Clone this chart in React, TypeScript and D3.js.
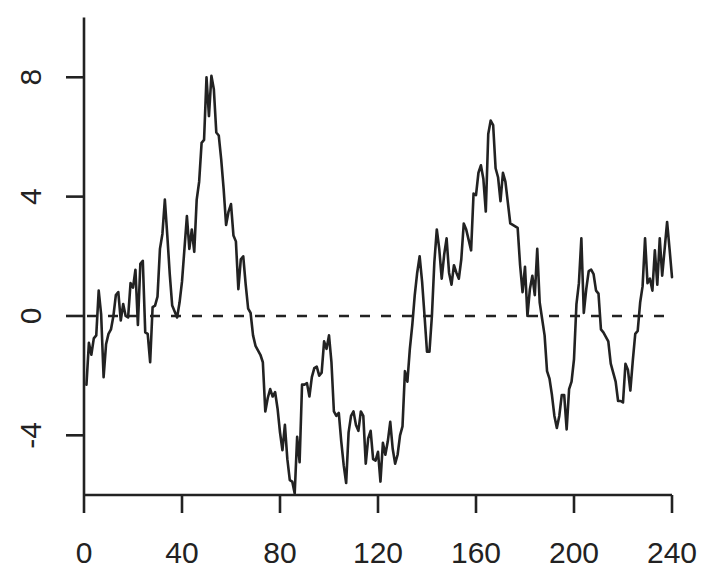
import React from "react";
import * as d3 from "d3";

const values: number[] = [
  -2.3, -0.9, -1.3, -0.75, -0.65, 0.85, 0.05, -2.05, -0.95, -0.6,
  -0.45, 0.0, 0.7, 0.8, -0.15, 0.4, 0.0, -0.05, 1.1, 0.95,
  1.55, -0.3, 1.75, 1.85, -0.55, -0.6, -1.55, 0.3, 0.35, 0.65,
  2.25, 2.75, 3.9, 2.7, 1.4, 0.35, 0.15, -0.05, 0.45, 1.15,
  2.25, 3.35, 2.25, 2.9, 2.15, 3.9, 4.5, 5.8, 5.9, 8.0,
  6.7, 8.05, 7.6, 6.15, 6.05, 5.25, 4.25, 3.05, 3.5, 3.75,
  2.7, 2.5, 0.9, 1.9, 2.0, 1.05, 0.25, 0.1, -0.65, -1.0,
  -1.15, -1.3, -1.55, -3.2, -2.75, -2.45, -2.7, -2.55, -3.1, -3.9,
  -4.5, -3.65, -4.8, -5.5, -5.55, -5.95, -4.05, -4.9, -2.3, -2.3,
  -2.25, -2.7, -2.05, -1.75, -1.7, -2.0, -1.9, -0.85, -1.1, -0.65,
  -1.55, -3.2, -3.35, -3.25, -4.2, -5.0, -5.6, -3.9, -3.35, -3.2,
  -3.65, -3.85, -3.2, -3.35, -4.95, -4.1, -3.85, -4.8, -4.85, -4.55,
  -5.55, -4.25, -4.65, -4.2, -3.55, -4.45, -4.95, -4.65, -4.0, -3.7,
  -1.85, -2.2, -1.1, -0.3, 0.7, 1.45, 2.0, 1.15, 0.0, -1.2,
  -1.2, 0.0, 1.8, 2.9, 2.25, 1.25, 2.05, 2.6, 1.45, 1.05,
  1.7, 1.45, 1.25, 1.9, 3.1, 2.9, 2.55, 2.2, 4.1, 4.05,
  4.8, 5.05, 4.6, 3.5, 6.1, 6.55, 6.4, 4.95, 4.65, 3.85,
  4.8, 4.5, 3.8, 3.1, 3.05, 3.0, 2.95, 1.7, 0.8, 1.65,
  0.0, 0.9, 1.35, 0.7, 2.25, 0.45, -0.1, -0.65, -1.85, -2.1,
  -2.65, -3.35, -3.75, -3.35, -2.65, -2.65, -3.8, -2.45, -2.2, -1.45,
  0.4, 1.1, 2.6, 0.1, 0.9, 1.5, 1.55, 1.4, 0.85, 0.75,
  -0.45, -0.55, -0.7, -0.85, -1.6, -1.9, -2.2, -2.85, -2.85, -2.9,
  -1.6, -1.8, -2.5, -1.5, -0.6, -0.5, 0.45, 1.0, 2.6, 1.1,
  1.25, 0.85, 2.2, 1.05, 2.6, 1.35, 2.25, 3.15, 2.25, 1.3,
];

const xTicks: number[] = [0, 40, 80, 120, 160, 200, 240];
const yTicks: number[] = [-4, 0, 4, 8];
const xDomain: [number, number] = [0, 240];
const yDomain: [number, number] = [-6, 10];
const refLevel = 0;

const W = 711;
const H = 583;
const INK = "#222222";
const FONT = "'Liberation Sans', Arial, Helvetica, sans-serif";

export default function App() {
  const x = d3.scaleLinear().domain(xDomain).range([84, 672]);
  const y = d3.scaleLinear().domain(yDomain).range([495, 17.6]);
  const line = d3
    .line<number>()
    .x((_, i) => x(i + 1))
    .y((d) => y(d));
  const path = line(values) || "";
  const tick = 18;

  return (
    <svg
      width={W}
      height={H}
      style={{ position: "absolute", left: 0, top: 0, background: "#fff" }}
    >
      <rect x={0} y={0} width={W} height={H} fill="#ffffff" />
      {/* reference dashed line */}
      <line
        x1={x(xDomain[0])}
        x2={x(xDomain[1])}
        y1={y(refLevel)}
        y2={y(refLevel)}
        stroke={INK}
        strokeWidth={2.6}
        strokeDasharray="10 11"
        strokeDashoffset={18}
      />
      {/* series */}
      <path d={path} fill="none" stroke={INK} strokeWidth={2.6} strokeLinejoin="round" strokeLinecap="round" />
      {/* y axis */}
      <line x1={x(0)} x2={x(0)} y1={y(yDomain[0])} y2={y(yDomain[1])} stroke={INK} strokeWidth={2.6} />
      {yTicks.map((t) => (
        <g key={"yt" + t}>
          <line x1={x(0) - tick} x2={x(0)} y1={y(t)} y2={y(t)} stroke={INK} strokeWidth={2.6} />
          <text
            transform={`translate(41,${y(t)}) rotate(-90)`}
            textAnchor="middle"
            fontFamily={FONT}
            fontSize={30}
            fill={INK}
          >
            {t}
          </text>
        </g>
      ))}
      {/* x axis */}
      <line x1={x(xDomain[0])} x2={x(xDomain[1])} y1={y(yDomain[0])} y2={y(yDomain[0])} stroke={INK} strokeWidth={2.6} />
      {xTicks.map((t) => (
        <g key={"xt" + t}>
          <line x1={x(t)} x2={x(t)} y1={y(yDomain[0])} y2={y(yDomain[0]) + tick} stroke={INK} strokeWidth={2.6} />
          <text x={x(t)} y={563} textAnchor="middle" fontFamily={FONT} fontSize={30} fill={INK}>
            {t}
          </text>
        </g>
      ))}
    </svg>
  );
}
